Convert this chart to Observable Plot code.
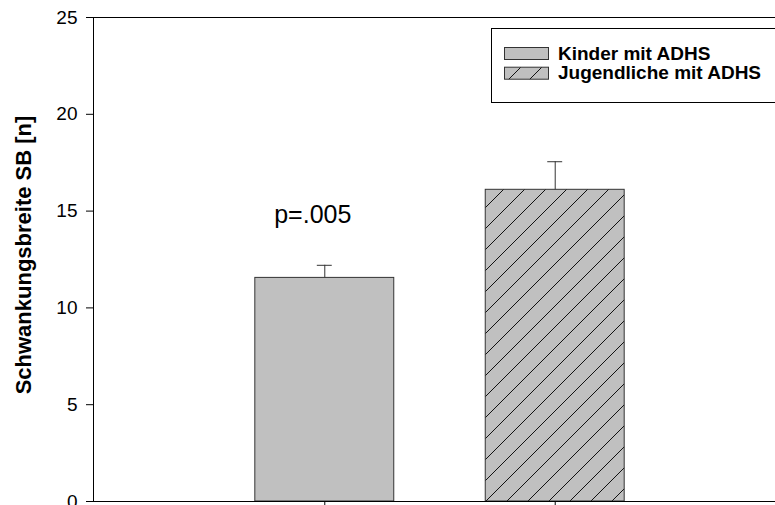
<!DOCTYPE html>
<html>
<head>
<meta charset="utf-8">
<script src="https://cdn.jsdelivr.net/npm/d3@7"></script>
<script src="https://cdn.jsdelivr.net/npm/@observablehq/plot@0.6"></script>
<style>
  html, body { margin: 0; padding: 0; background: #fff; }
  #chart { width: 775px; height: 505px; overflow: hidden; }
  svg { font-family: "Liberation Sans", Arial, sans-serif; }
</style>
</head>
<body>
<div id="chart"></div>
<script>
// ---- data ----
const groups = ["Kinder mit ADHS", "Jugendliche mit ADHS"];
const means = [11.55, 16.1];
const errors = [0.65, 1.45];
const fills = ["#c0c0c0", "url(#hatch)"];
const yTicks = [0, 5, 10, 15, 20, 25];
const yLabel = "Schwankungsbreite SB [n]";
const annotations = [{group: "Kinder mit ADHS", y: 14.8, text: "p=.005"}];

const data = groups.map((g, i) => ({group: g, mean: means[i], err: errors[i], top: means[i] + errors[i], fill: fills[i]}));

const FONT = '"Liberation Sans", Arial, sans-serif';

const svg = Plot.plot({
  width: 775,
  height: 505,
  marginLeft: 93,
  marginRight: 0,
  marginTop: 17,
  marginBottom: 4,
  style: {fontFamily: FONT, fontSize: "19px", background: "#fff", overflow: "visible", color: "#000"},
  x: {type: "band", domain: groups, range: [208.5, 670.5], paddingInner: 0.397, paddingOuter: 0.201, round: false, axis: null},
  y: {domain: [0, 25], axis: null},
  color: {type: "identity"},
  marks: [
    Plot.barY(data, {x: "group", y: "mean", fill: "fill", stroke: "#333", strokeWidth: 1}),
    Plot.ruleX(data, {x: "group", y1: "mean", y2: "top", stroke: "#333", strokeWidth: 1}),
    Plot.tickY(data, {x: "group", y: "top", stroke: "#333", strokeWidth: 1, insetLeft: 62, insetRight: 62}),
    Plot.text(annotations, {x: "group", y: "y", text: "text", dx: -12, fontSize: 25, fill: "#000"}),
    Plot.ruleY([25], {stroke: "#000", strokeWidth: 1}),
    Plot.ruleY([0], {stroke: "#000", strokeWidth: 1}),
    Plot.axisY({ticks: yTicks, tickSize: 7, tickPadding: 9, fontSize: 19, label: null, stroke: "#000", color: "#000"}),
    Plot.axisX({tickSize: 6, tickFormat: () => "", label: null, stroke: "#000"})
  ]
});

const s = d3.select(svg);
// enlarge y tick labels
s.selectAll('[aria-label="y-axis tick label"]').attr("font-size", 19).style("font-size", "19px");
s.selectAll('[aria-label="y-axis tick label"] text').attr("font-size", 19).attr("fill", "#000");

const defs = s.insert("defs", ":first-child");
const pat = defs.append("pattern")
  .attr("id", "hatch").attr("patternUnits", "userSpaceOnUse")
  .attr("width", 21).attr("height", 21);
pat.append("rect").attr("width", 21).attr("height", 21).attr("fill", "#c0c0c0");
pat.append("path").attr("d", "M-5,5L5,-5M0,21L21,0M16,26L26,16")
  .attr("stroke", "#111").attr("stroke-width", 1).attr("fill", "none");

// left axis line, from the y scale
const ys = svg.scale("y");
s.append("line")
  .attr("x1", 93.5).attr("x2", 93.5)
  .attr("y1", ys.apply(25)).attr("y2", ys.apply(0))
  .attr("stroke", "#000").attr("stroke-width", 1);

// y axis title
s.append("text")
  .attr("transform", "translate(31,255) rotate(-90)")
  .attr("text-anchor", "middle")
  .attr("font-size", 22).attr("font-weight", "bold").attr("fill", "#000")
  .attr("font-family", FONT)
  .text(yLabel);

// legend
const lg = s.append("g").attr("font-family", FONT).attr("text-anchor", "start");
lg.append("rect").attr("x", 491.5).attr("y", 28.5).attr("width", 300).attr("height", 74)
  .attr("fill", "#fff").attr("stroke", "#000").attr("stroke-width", 1);
groups.forEach((g, i) => {
  const y = 47.5 + i * 19.7;
  lg.append("rect").attr("x", 504.5).attr("y", y).attr("width", 44).attr("height", 12)
    .attr("fill", fills[i]).attr("stroke", "#333").attr("stroke-width", 1);
  lg.append("text").attr("x", 558).attr("y", y + 12)
    .attr("text-anchor", "start")
    .attr("font-size", 19).attr("font-weight", "bold").attr("fill", "#000")
    .text(g);
});

document.getElementById("chart").appendChild(svg);
</script>
</body>
</html>
